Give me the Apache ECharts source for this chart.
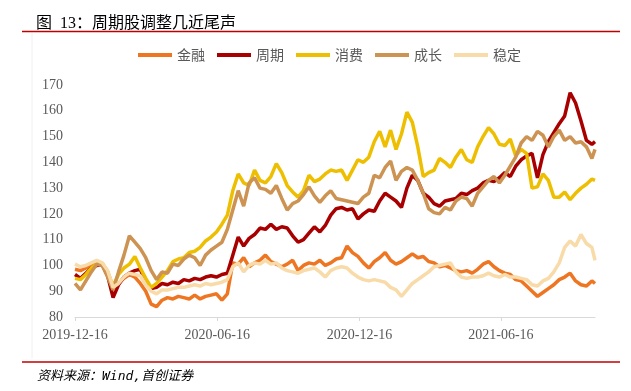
<!DOCTYPE html>
<html>
<head>
<meta charset="utf-8">
<script src="https://cdn.jsdelivr.net/npm/echarts@6.0.0/dist/echarts.min.js"></script>
<style>
  html, body { margin: 0; padding: 0; background: #fff; }
  #chart { width: 631px; height: 391px; }
</style>
</head>
<body>
<div id="chart"></div>
<script>
// weekly samples
const dates = [
  '2019-12-16', '2019-12-23', '2019-12-30', '2020-01-06', '2020-01-13', '2020-01-20', '2020-01-27', '2020-02-03', '2020-02-10', '2020-02-17',
  '2020-02-24', '2020-03-02', '2020-03-09', '2020-03-16', '2020-03-23', '2020-03-30', '2020-04-06', '2020-04-13', '2020-04-20', '2020-04-27',
  '2020-05-04', '2020-05-11', '2020-05-18', '2020-05-25', '2020-06-01', '2020-06-08', '2020-06-15', '2020-06-22', '2020-06-29', '2020-07-06',
  '2020-07-13', '2020-07-20', '2020-07-27', '2020-08-03', '2020-08-10', '2020-08-17', '2020-08-24', '2020-08-31', '2020-09-07', '2020-09-14',
  '2020-09-21', '2020-09-28', '2020-10-05', '2020-10-12', '2020-10-19', '2020-10-26', '2020-11-02', '2020-11-09', '2020-11-16', '2020-11-23',
  '2020-11-30', '2020-12-07', '2020-12-14', '2020-12-21', '2020-12-28', '2021-01-04', '2021-01-11', '2021-01-18', '2021-01-25', '2021-02-01',
  '2021-02-08', '2021-02-15', '2021-02-22', '2021-03-01', '2021-03-08', '2021-03-15', '2021-03-22', '2021-03-29', '2021-04-05', '2021-04-12',
  '2021-04-19', '2021-04-26', '2021-05-03', '2021-05-10', '2021-05-17', '2021-05-24', '2021-05-31', '2021-06-07', '2021-06-14', '2021-06-21',
  '2021-06-28', '2021-07-05', '2021-07-12', '2021-07-19', '2021-07-26', '2021-08-02', '2021-08-09', '2021-08-16', '2021-08-23', '2021-08-30',
  '2021-09-06', '2021-09-13', '2021-09-20', '2021-09-27', '2021-10-04', '2021-10-11', '2021-10-15'
];
const tickDates = ['2019-12-16', '2020-06-16', '2020-12-16', '2021-06-16'];

const finance = [
  98.5, 98, 99, 100, 100.5, 100, 97.5, 90.5, 93, 95,
  96.5, 95.5, 93, 90, 85, 84, 86.5, 87.5, 87, 88,
  87.5, 87, 88.5, 87, 88, 88.5, 89, 86.5, 89, 101,
  100.5, 103, 99.5, 101, 102, 104, 101.5, 100.5, 99.5, 100.5,
  102, 98, 100, 101, 100.5, 102, 100, 101, 102.5, 103,
  107.5, 105, 103.5, 101, 99, 101.5, 103, 105, 102, 100.5,
  101.5, 103, 104.5, 103, 103.5, 101.5, 101, 99.5, 100, 99,
  98, 97.5, 98, 97, 98.5, 100.5, 101.5, 99.5, 98, 97,
  96.5, 94.5, 94, 92, 90, 88, 89.5, 91, 92.5, 94.5,
  95.5, 97, 94, 92.5, 92, 94, 93
];
const cyclical = [
  96.5, 95, 97, 99, 100, 100.5, 96, 87.5, 92.5, 95.5,
  97, 98, 98.5, 93.5, 91, 91.5, 93, 92.5, 93.5, 93,
  94.5, 94, 95, 94.5, 95.5, 96, 95.5, 96.5, 97, 104,
  111, 107.5, 110.5, 112, 114.5, 114, 116, 114, 115, 114.5,
  111.5, 109, 110, 112.5, 115, 113, 115.5, 119.5, 122, 122.5,
  121.5, 122, 118, 120, 121.5, 121, 125, 128, 126.5, 125,
  122.5, 130, 135, 133, 128, 126.5, 124, 123, 125, 125.5,
  126, 128, 127.5, 129, 130, 132, 133, 132.5, 134, 136,
  134.5, 138.5, 141, 142.5, 143.5, 134, 143, 148, 151.5, 155,
  158, 167, 163, 156, 148.5, 147, 148
];
const consumer = [
  95, 94.5, 96.5, 99, 100.5, 101, 97.5, 92, 96.5, 99,
  100.5, 103.5, 99, 95, 91.5, 93, 95.5, 98, 101.5, 102.5,
  103, 105, 105.5, 107, 109.5, 111, 113, 116, 119.5, 129,
  135.5, 132, 131, 137, 133, 132, 134.5, 139.5, 136, 131,
  128.5, 126.5, 129, 135, 132.5, 133.5, 135.5, 137, 136.5, 137,
  133, 137, 141, 140, 142, 148, 152, 146, 152.5, 145,
  151, 159.5, 155.5, 146, 134.5, 136, 137, 141.5, 140, 138,
  142, 145, 141, 140, 146, 150, 153.5, 151, 147, 146.5,
  149, 142.5, 145, 143.5, 130, 130.5, 135.5, 133, 126.5, 126.5,
  128.5, 125.5, 128, 130, 131.5, 133.5, 133
];
const growth = [
  93, 90.5, 94, 97.5, 100.5, 100, 95.5, 90.5, 97.5, 104,
  111.5, 109, 106.5, 103, 98, 94.5, 97.5, 97, 100.5, 100,
  102.5, 104, 103, 100, 104, 106, 107.5, 109, 114, 121.5,
  129, 123, 132, 134, 130, 129.5, 128, 131, 126, 121.5,
  124, 125, 127.5, 130.5, 127, 124.5, 127, 129, 126, 125.5,
  125, 124.5, 124, 126.5, 128, 135, 134, 138, 140.5, 133,
  136.5, 138, 137, 133, 128, 122, 120.5, 120, 122.5, 121.5,
  125, 126.5, 126, 123, 128, 130.5, 133, 134.5, 132, 135,
  138.5, 142, 147.5, 150, 148.5, 152, 150.5, 146, 150, 152.5,
  148.5, 150, 147.5, 148, 146, 141.5, 145
];
const stable = [
  100.5, 99.5, 100, 101, 102, 101, 98, 91.5, 93, 95.5,
  97, 96.5, 96, 92.5, 90, 89, 90.5, 90.5, 91, 91.5,
  91.5, 92, 92.5, 92, 93, 92.5, 93, 93.5, 94.5, 99.5,
  101, 97.5, 100, 101, 100.5, 102, 100.5, 101, 99, 98,
  97.5, 97, 98, 98.5, 99, 97.5, 95.5, 98, 99, 99.5,
  99, 97, 95.5, 94.5, 94, 94.5, 94, 93.5, 91.5, 90.5,
  88, 90.5, 93, 94.5, 96, 97.5, 99.5, 100, 100.5, 101,
  97.5, 95.5, 95, 95.5, 95.5, 96, 97, 96, 95.5, 96.5,
  95.5, 95.5, 95, 94.5, 92.5, 92, 94, 95, 97.5, 101,
  107, 109.5, 107.5, 112, 108.5, 107, 102
];

const seriesNames = ['金融', '周期', '消费', '成长', '稳定'];
const seriesValues = [finance, cyclical, consumer, growth, stable];
const colors = ['#EE7623', '#A80000', '#EEBF00', '#CC9352', '#F8DBA8'];

const serifFont = "'Liberation Serif', 'Noto Sans CJK SC', serif";
const cjkFont = "'Noto Sans CJK SC', sans-serif";

const option = {
  animation: false,
  backgroundColor: '#fff',
  color: colors,
  title: [
    {
      text: '图  13：周期股调整几近尾声',
      left: 31,
      top: 11,
      textStyle: { fontFamily: serifFont, fontSize: 16, fontWeight: 'normal', color: '#000' },
    },
    {
      text: '资料来源：Wind,首创证券',
      left: 32,
      top: 365,
      textStyle: {
        fontFamily: "'DejaVu Sans Mono', 'Noto Sans CJK SC', monospace",
        fontStyle: 'italic', fontSize: 13, fontWeight: 'normal', color: '#000',
      },
    },
  ],
  graphic: [
    { type: 'line', shape: { x1: 22, y1: 31.5, x2: 620, y2: 31.5 }, style: { stroke: '#C00000', lineWidth: 1.5 } },
    { type: 'line', shape: { x1: 22, y1: 362, x2: 620, y2: 362 }, style: { stroke: '#C00000', lineWidth: 1.5 } },
    { type: 'line', shape: { x1: 32, y1: 33, x2: 32, y2: 358 }, style: { stroke: '#F0F0F0', lineWidth: 1 } },
  ],
  legend: {
    left: 133,
    top: 43,
    icon: 'rect',
    itemWidth: 34,
    itemHeight: 4,
    itemGap: 12,
    textStyle: { fontFamily: cjkFont, fontSize: 14, color: '#595959' },
    data: seriesNames,
  },
  grid: { left: 75, right: 36, top: 85, bottom: 74, containLabel: false },
  xAxis: {
    type: 'time',
    min: '2019-12-16',
    max: '2021-10-15',
    axisLine: { show: true, lineStyle: { color: '#D9D9D9', width: 1 } },
    axisTick: { show: true, length: 4, customValues: tickDates, lineStyle: { color: '#D9D9D9' } },
    axisLabel: {
      customValues: tickDates,
      formatter: '{yyyy}-{MM}-{dd}',
      fontFamily: serifFont,
      fontSize: 14,
      color: '#595959',
      margin: 11,
    },
    splitLine: { show: false },
  },
  yAxis: {
    type: 'value',
    min: 80,
    max: 170,
    interval: 10,
    axisLine: { show: false },
    axisTick: { show: false },
    splitLine: { show: false },
    axisLabel: { fontFamily: serifFont, fontSize: 14, color: '#595959', margin: 12 },
  },
  series: seriesNames.map(function (name, i) {
    return {
      name: name,
      type: 'line',
      showSymbol: false,
      symbol: 'none',
      lineStyle: { width: 3.5, color: colors[i] },
      itemStyle: { color: colors[i] },
      data: dates.map(function (d, j) { return [d, seriesValues[i][j]]; }),
    };
  }),
};

const myChart = echarts.init(document.getElementById('chart'));
myChart.setOption(option);
</script>
</body>
</html>
